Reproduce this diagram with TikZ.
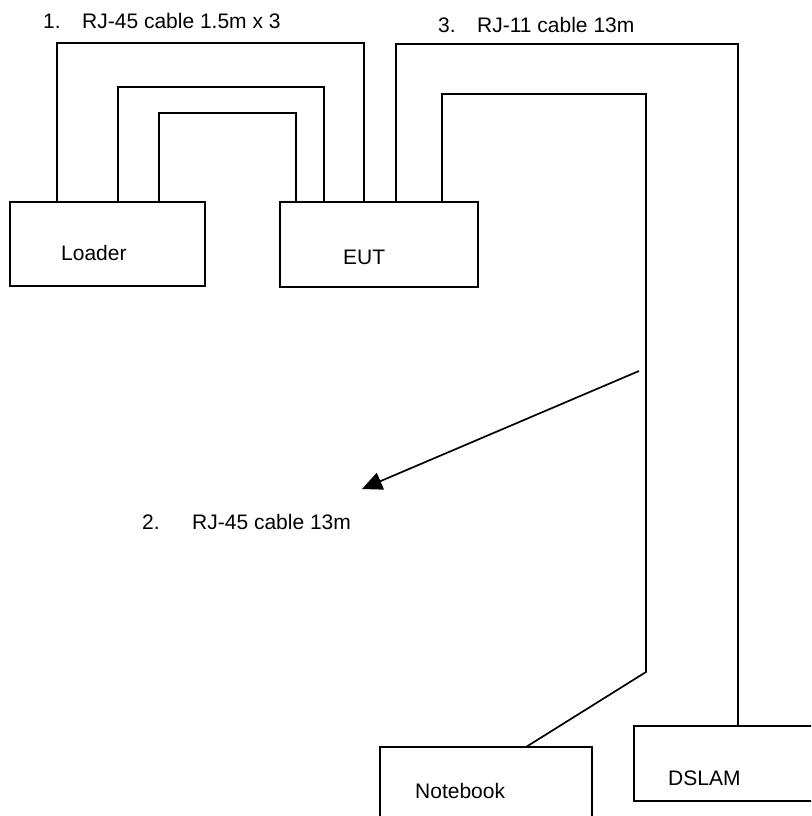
\documentclass[tikz,border=0pt]{standalone}
\usepackage{fontspec}
\setmainfont{Liberation Sans}
\usetikzlibrary{calc,arrows.meta}
\begin{document}
\begin{tikzpicture}[x=1pt,y=-1pt,
  box/.style={draw, line width=1.9pt, inner sep=0pt, outer sep=0pt, anchor=north west},
  cable/.style={draw, line width=1.7pt, line join=miter},
  lbl/.style={anchor=base west, inner sep=0pt, font=\fontsize{21}{25}\selectfont}]
\useasboundingbox (0,0) rectangle (811,816);
\clip (0,0) rectangle (811,816);
% boxes
\node[box, minimum width=195pt, minimum height=84pt] (loader) at (10,202) {};
\node[box, minimum width=198pt, minimum height=85pt] (eut) at (280,202) {};
\node[box, minimum width=212pt, minimum height=110pt] (notebook) at (380,747) {};
\node[box, minimum width=200pt, minimum height=75pt] (dslam) at (634,726) {};
% box texts
\node[lbl] (tloader) at (61,260) {Loader};
\node[lbl] (teut) at (343,264) {EUT};
\node[lbl] (tnotebook) at (415,798) {Notebook};
\node[lbl] (tdslam) at (668,785) {DSLAM};
% cable labels
\node[lbl] (n1) at (43,29) {1.};
\node[lbl] (c1) at (82,29) {RJ-45 cable 1.5m x 3};
\node[lbl] (n3) at (438,33) {3.};
\node[lbl] (c3) at (477,33) {RJ-11 cable 13m};
\node[lbl] (n2) at (142,529) {2.};
\node[lbl] (c2) at (192,529) {RJ-45 cable 13m};
% cables 1 (three RJ-45 loops)
\draw[cable] ($(loader.north west)+(47,0)$) -- ++(0,-159) -| ($(eut.north west)+(84,0)$);
\draw[cable] ($(loader.north west)+(108,0)$) -- ++(0,-115) -| ($(eut.north west)+(44,0)$);
\draw[cable] ($(loader.north west)+(149,0)$) -- ++(0,-89) -| ($(eut.north west)+(16,0)$);
% cable 3 (RJ-11 to DSLAM)
\draw[cable] ($(eut.north west)+(116,0)$) -- ++(0,-158) -| ($(dslam.north west)+(104,0)$);
% cable 2 (RJ-45 to notebook)
\coordinate (bend) at (646,672);
\draw[cable] ($(eut.north west)+(162,0)$) -- ++(0,-108) -| (bend) -- ($(notebook.north west)+(146,0)$);
% pointer arrow
\coordinate (arrS) at (639,371);
\coordinate (arrE) at (362,489);
\draw[line width=1.7pt, -{Triangle[length=20pt,width=18pt]}] (arrS) -- (arrE);
\end{tikzpicture}
\end{document}
